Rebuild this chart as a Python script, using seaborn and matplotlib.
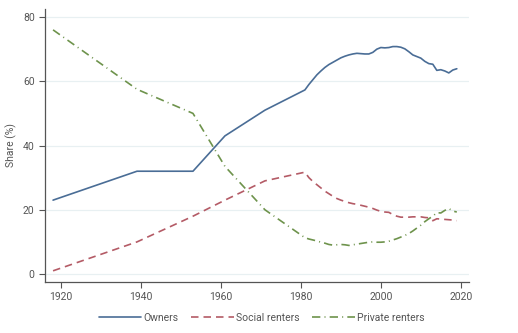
import matplotlib
matplotlib.use("Agg")
import matplotlib.pyplot as plt
import seaborn as sns
import pandas as pd

years = [1918, 1939, 1953, 1961, 1971] + list(range(1981, 2020))

owners = [23, 32, 32, 43, 51,
          57.3, 59.0, 60.5, 62.0, 63.2, 64.3, 65.2, 65.9, 66.6, 67.3,
          67.8, 68.2, 68.5, 68.7, 68.6, 68.5, 68.5, 69.0, 70.0, 70.5,
          70.4, 70.5, 70.8, 70.8, 70.6, 70.1, 69.2, 68.2, 67.7, 67.2,
          66.2, 65.5, 65.3, 63.4, 63.6, 63.2, 62.6, 63.5, 63.9]

social = [1, 10, 18, 23, 29,
          31.7, 30.0, 28.8, 27.8, 26.8, 25.8, 25.0, 24.2, 23.5, 23.0,
          22.6, 22.2, 21.9, 21.7, 21.4, 21.1, 20.8, 20.4, 19.9, 19.5,
          19.3, 19.2, 18.5, 18.0, 17.7, 17.7, 17.7, 17.8, 17.8, 17.8,
          17.6, 17.5, 16.6, 17.2, 17.1, 17.0, 16.9, 16.8, 16.6]

private = [76, 57.5, 50, 33.5, 20,
           11.3, 10.9, 10.6, 10.3, 9.9, 9.6, 9.2, 9.0, 9.1, 9.2,
           9.1, 8.9, 9.1, 9.3, 9.5, 9.7, 9.9, 10.0, 9.9, 9.9,
           10.0, 10.2, 10.6, 11.0, 11.5, 12.0, 12.6, 13.4, 14.3, 15.2,
           16.3, 17.2, 18.0, 19.1, 19.0, 19.8, 20.4, 19.6, 19.3]

series_names = ["Owners", "Social renters", "Private renters"]
x_ticks = [1920, 1940, 1960, 1980, 2000, 2020]
y_ticks = [0, 20, 40, 60, 80]

df = pd.concat([
    pd.DataFrame({"year": years, "share": vals, "tenure": name})
    for name, vals in zip(series_names, [owners, social, private])
])

sns.set_theme(style="white")
plt.rcParams["font.family"] = ["Roboto", "DejaVu Sans"]

fig = plt.figure(figsize=(5.18, 3.33), dpi=100)
ax = fig.add_axes([0.087, 0.153, 0.818, 0.82])

palette = {"Owners": "#4a6d96", "Social renters": "#b45b66", "Private renters": "#6e934c"}
dashes = {"Owners": "", "Social renters": (4.5, 3), "Private renters": (5, 2.5, 0.6, 2.5)}

sns.lineplot(data=df, x="year", y="share", hue="tenure", style="tenure",
             palette=palette, dashes=dashes, hue_order=series_names,
             style_order=series_names, linewidth=1.2, ax=ax, legend=True)

ax.set_xlim(1916, 2022)
ax.set_ylim(-2.5, 82.5)
ax.set_xticks(x_ticks)
ax.set_yticks(y_ticks)
ax.grid(axis="y", color="#e8f0f2", linewidth=0.9)
ax.set_axisbelow(True)
for s in ["top", "right"]:
    ax.spines[s].set_visible(False)
for s in ["left", "bottom"]:
    ax.spines[s].set_color("#555555")
    ax.spines[s].set_linewidth(0.9)
ax.tick_params(axis="both", which="both", direction="out", length=4.5, width=0.8,
               color="#555555", labelsize=7.5, labelcolor="#555555", left=True, bottom=True, pad=3)
ax.set_xlabel("")
ax.set_ylabel("Share (%)", fontsize=7.5, color="#555555", labelpad=4)

handles, labels = ax.get_legend_handles_labels()
ax.legend(handles=handles, labels=labels, loc="center", bbox_to_anchor=(0.505, 0.045),
          bbox_transform=fig.transFigure, ncol=3, frameon=False, fontsize=7.5,
          handlelength=4.1, handletextpad=0.2, columnspacing=1.2, labelcolor="#555555")

fig.savefig("out.png", dpi=100)
